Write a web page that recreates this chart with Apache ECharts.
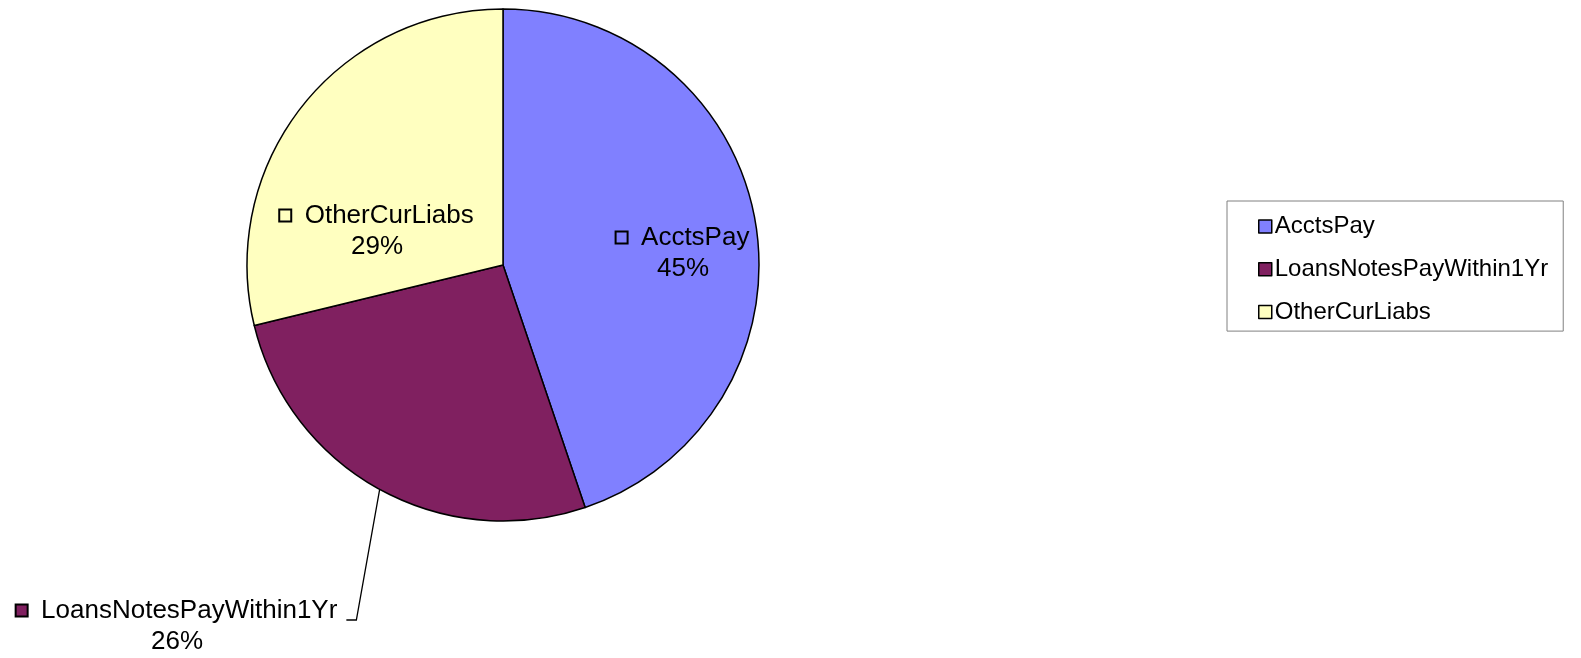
<!DOCTYPE html>
<html>
<head>
<meta charset="utf-8">
<script src="https://cdn.jsdelivr.net/npm/echarts@6/dist/echarts.min.js"></script>
<style>html,body{margin:0;padding:0;background:#fff;overflow:hidden;width:100%;height:100%;}#c{width:100vw;height:100vh;}</style>
</head>
<body>
<div id="c"></div>
<script>
const categories = ['AcctsPay', 'LoansNotesPayWithin1Yr', 'OtherCurLiabs'];
const values = [44.8, 26.4, 28.8];
const colors = ['#8080FF', '#802060', '#FFFFC0'];

const FONT = 'Liberation Sans, Arial, sans-serif';
const chart = echarts.init(document.getElementById('c'));
const s = chart.getWidth() / 1581;
const CENTER = [503 * s, 265 * s];
const RADIUS = 256 * s;

const labelPos = [
  { x: 683, y: 253 },
  { x: 177, y: 626 },
  { x: 377, y: 231 }
];

const total = values.reduce((a, b) => a + b, 0);
function midAngle(i) {
  let before = 0;
  for (let k = 0; k < i; k++) before += values[k];
  return (before + values[i] / 2) / total * 2 * Math.PI; // clockwise from top
}

const data = categories.map((name, i) => ({
  name: name,
  value: values[i],
  itemStyle: { color: colors[i] },
  label: {
    rich: {
      sq: { width: 10 * s, height: 10 * s, borderColor: '#000', borderWidth: 2 * s, backgroundColor: colors[i] }
    }
  },
  labelLine: { show: i === 1 }
}));

chart.setOption({
  animation: false,
  color: colors,
  legend: {
    orient: 'vertical',
    left: 1227 * s,
    top: 201 * s,
    padding: [13.5 * s, 15 * s, 7 * s, 31 * s],
    itemGap: 18.8 * s,
    itemWidth: 13 * s,
    itemHeight: 13 * s,
    icon: 'rect',
    borderColor: '#808080',
    borderWidth: 1,
    itemStyle: { borderColor: '#000', borderWidth: 1.5 * s },
    textStyle: { fontFamily: FONT, fontSize: 24 * s, color: '#000', padding: [0, 0, 0, -2 * s] },
    data: categories
  },
  series: [{
    type: 'pie',
    center: CENTER,
    radius: RADIUS,
    startAngle: 90,
    clockwise: true,
    avoidLabelOverlap: false,
    itemStyle: { borderColor: '#000', borderWidth: 1.5 * s },
    label: {
      show: true,
      position: 'outside',
      formatter: function (p) { return '{sq|}  ' + p.name + '\n' + Math.round(p.percent) + '%'; },
      fontFamily: FONT,
      fontSize: 26 * s,
      lineHeight: 31 * s,
      color: '#000',
      align: 'center'
    },
    labelLine: {
      show: true,
      lineStyle: { color: '#000', width: 1.3 * s }
    },
    labelLayout: function (p) {
      const pos = labelPos[p.dataIndex];
      const px = pos.x * s, py = pos.y * s;
      const out = { x: px, y: py, align: 'center', verticalAlign: 'middle' };
      if (p.dataIndex === 1) {
        const a = midAngle(1);
        const ex = CENTER[0] + RADIUS * Math.sin(a);
        const ey = CENTER[1] - RADIUS * Math.cos(a);
        const w = p.labelRect.width;
        const right = px + w / 2;
        const ly = py - 6 * s;
        out.labelLinePoints = [[ex, ey], [right + 18 * s, ly], [right + 8 * s, ly]];
      }
      return out;
    },
    data: data
  }]
});
</script>
</body>
</html>
